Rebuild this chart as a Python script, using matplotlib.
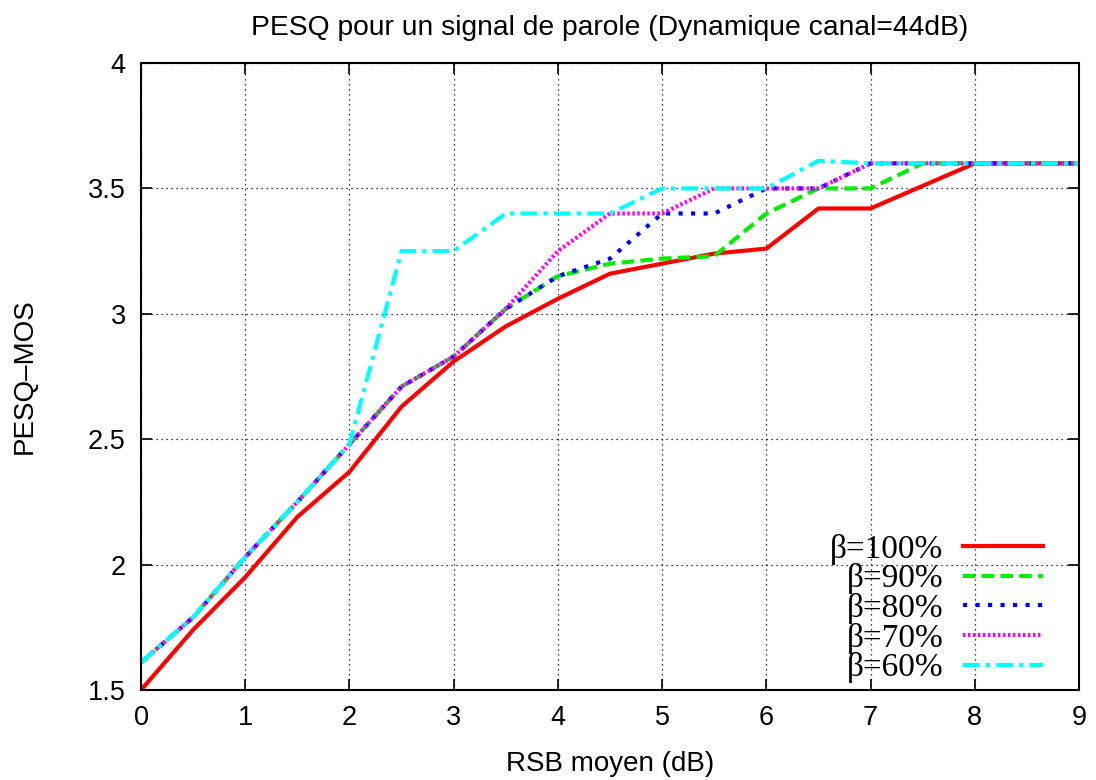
import matplotlib

matplotlib.use("Agg")

import matplotlib.pyplot as plt
import numpy as np

# values
rsb = np.arange(0, 9.5, 0.5)
beta_100 = [1.50, 1.74, 1.95, 2.19, 2.37, 2.63, 2.81, 2.95, 3.06, 3.16,
            3.20, 3.24, 3.26, 3.42, 3.42, 3.51, 3.60, 3.60, 3.60]
beta_90 = [1.61, 1.79, 2.03, 2.25, 2.48, 2.71, 2.83, 3.02, 3.15, 3.20,
           3.22, 3.23, 3.40, 3.50, 3.50, 3.60, 3.60, 3.60, 3.60]
beta_80 = [1.61, 1.79, 2.03, 2.25, 2.48, 2.71, 2.83, 3.02, 3.15, 3.22,
           3.40, 3.40, 3.50, 3.50, 3.60, 3.60, 3.60, 3.60, 3.60]
beta_70 = [1.61, 1.79, 2.03, 2.25, 2.48, 2.71, 2.83, 3.02, 3.25, 3.40,
           3.40, 3.50, 3.50, 3.50, 3.60, 3.60, 3.60, 3.60, 3.60]
beta_60 = [1.61, 1.79, 2.03, 2.25, 2.48, 3.25, 3.25, 3.40, 3.40, 3.40,
           3.50, 3.50, 3.50, 3.61, 3.60, 3.60, 3.60, 3.60, 3.60]

labels = ["β=100%", "β=90%", "β=80%", "β=70%", "β=60%"]
series = [beta_100, beta_90, beta_80, beta_70, beta_60]
colors = ["#ff0000", "#00ee00", "#0000ff", "#ff00ff", "#00ffff"]
dashes = [None, (3, 1.5), (1, 2), (0.6, 0.6), (4, 1.5, 1, 1.5)]

plt.rcParams["font.family"] = ["Liberation Sans", "DejaVu Sans"]

fig = plt.figure(figsize=(10.96, 7.8), dpi=100)
ax = fig.add_axes([0.1287, 0.1154, 0.8558, 0.8038])

for values, label, color, dash in zip(series, labels, colors, dashes):
    line, = ax.plot(rsb, values, color=color, linewidth=3, label=label)
    if dash is not None:
        line.set_dashes(dash)
        line.set_dash_capstyle("butt")

ax.set_xlim(0, 9)
ax.set_ylim(1.5, 4)
ax.set_xticks(range(10))
ax.set_yticks([1.5, 2, 2.5, 3, 3.5, 4])
ax.set_yticklabels(["1.5", "2", "2.5", "3", "3.5", "4"])
ax.tick_params(direction="in", length=8, width=1.2, top=True, right=True,
               labelsize=19.5, pad=11)
ax.grid(color="black", linestyle=(0, (1, 3)), linewidth=0.9)
for spine in ax.spines.values():
    spine.set_linewidth(1.5)

ax.set_title("PESQ pour un signal de parole (Dynamique canal=44dB)",
             fontsize=20.3, pad=20)
ax.set_xlabel("RSB moyen (dB)", fontsize=20, labelpad=14)
ax.set_ylabel("PESQ\u2013MOS", fontsize=20, labelpad=36)

leg = ax.legend(loc="lower right", bbox_to_anchor=(0.994, -0.037),
                markerfirst=False, frameon=False, handlelength=2.4,
                handletextpad=0.6, labelspacing=-0.04,
                prop={"family": "Liberation Serif", "size": 24})
for text in leg.get_texts():
    text.set_horizontalalignment("right")

fig.savefig("out.png", dpi=100)
